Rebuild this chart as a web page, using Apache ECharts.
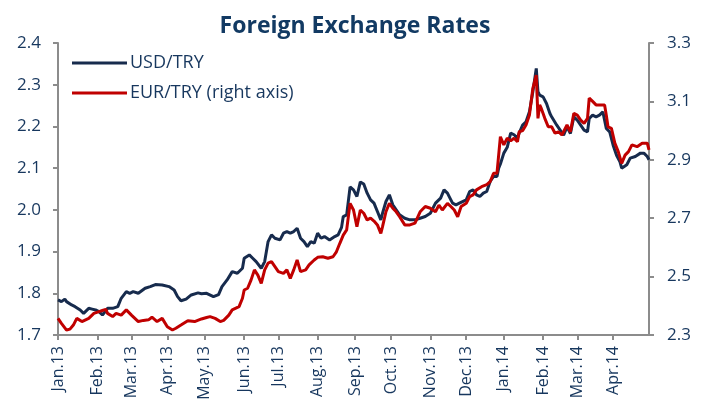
<!DOCTYPE html>
<html>
<head>
<meta charset="utf-8">
<script src="https://cdn.jsdelivr.net/npm/echarts@6/dist/echarts.min.js"></script>
<style>
html,body{margin:0;padding:0;background:#fff;}
#chart{width:710px;height:406px;}
</style>
</head>
<body>
<div id="chart"></div>
<script>
// Month tick labels
const monthLabels = ['Jan.13','Feb.13','Mar.13','Apr.13','May.13','Jun.13','Jul.13','Aug.13',
  'Sep.13','Oct.13','Nov.13','Dec.13','Jan.14','Feb.14','Mar.14','Apr.14'];
const firstDay = '2013-01-01';
const lastDay = '2014-04-30';

// USD/TRY: [business-day index, rate] (left axis)
const usdTry = [
  [0,1.784],[2,1.780],[4,1.786],[5,1.780],[8,1.772],[10,1.768],[13,1.760],[15,1.752],[18,1.764],
  [20,1.762],[22,1.760],[24,1.756],[26,1.748],[28,1.758],[29,1.764],[32,1.764],[35,1.768],
  [37,1.788],[40,1.804],[42,1.800],[44,1.804],[47,1.800],[49,1.806],[51,1.812],[54,1.816],
  [57,1.821],[61,1.820],[65,1.816],[68,1.808],[70,1.792],[72,1.782],[75,1.786],[78,1.796],
  [82,1.801],[84,1.799],[87,1.800],[91,1.792],[94,1.797],[96,1.816],[99,1.832],[102,1.852],
  [105,1.848],[108,1.860],[109,1.884],[112,1.892],[114,1.884],[116,1.876],[119,1.860],
  [121,1.876],[123,1.924],[125,1.940],[127,1.932],[130,1.928],[132,1.944],[134,1.948],
  [136,1.944],[138,1.948],[140,1.956],[142,1.932],[144,1.924],[146,1.912],[148,1.924],
  [150,1.920],[152,1.944],[154,1.932],[156,1.936],[159,1.928],[162,1.936],[164,1.940],
  [166,1.958],[167,1.984],[169,1.988],[171,2.055],[173,2.048],[175,2.032],[177,2.067],
  [179,2.062],[181,2.040],[183,2.024],[185,2.016],[187,1.996],[189,1.976],[190,1.992],
  [192,2.020],[194,2.036],[196,2.012],[198,2.000],[200,1.988],[203,1.980],[206,1.976],
  [209,1.976],[212,1.980],[215,1.984],[218,1.992],[221,2.016],[224,2.028],[226,2.048],
  [228,2.040],[230,2.024],[231,2.016],[233,2.012],[235,2.016],[239,2.024],[241,2.044],
  [243,2.048],[245,2.036],[247,2.032],[249,2.040],[251,2.044],[253,2.068],[255,2.080],
  [257,2.080],[258,2.100],[259,2.110],[261,2.136],[263,2.150],[265,2.184],[267,2.180],
  [269,2.172],[270,2.184],[272,2.203],[274,2.211],[276,2.235],[278,2.283],[280,2.339],
  [281,2.283],[282,2.275],[284,2.271],[286,2.255],[288,2.231],[289,2.223],[292,2.203],
  [294,2.191],[296,2.179],[298,2.199],[300,2.183],[302,2.223],[304,2.215],[306,2.203],
  [308,2.191],[310,2.187],[311,2.219],[313,2.227],[315,2.223],[317,2.227],[319,2.235],
  [321,2.195],[323,2.187],[325,2.155],[327,2.131],[329,2.115],[330,2.100],[333,2.108],
  [335,2.124],[338,2.128],[341,2.136],[343,2.136],[345,2.128],[346,2.120]
];

// EUR/TRY: [business-day index, rate] (right axis)
const eurTry = [
  [0,2.357],[2,2.340],[5,2.317],[7,2.320],[9,2.334],[11,2.357],[14,2.346],[18,2.357],
  [21,2.374],[24,2.380],[26,2.384],[28,2.388],[29,2.374],[32,2.363],[34,2.374],[37,2.368],
  [40,2.386],[43,2.368],[47,2.346],[50,2.350],[53,2.352],[55,2.361],[58,2.346],[61,2.357],
  [64,2.328],[67,2.317],[69,2.323],[72,2.334],[76,2.349],[80,2.346],[84,2.355],[87,2.360],
  [89,2.363],[92,2.357],[95,2.346],[97,2.350],[100,2.368],[102,2.386],[106,2.397],
  [108,2.426],[109,2.454],[111,2.460],[113,2.488],[115,2.523],[117,2.505],[119,2.477],
  [121,2.523],[123,2.546],[125,2.551],[127,2.534],[129,2.517],[132,2.511],[134,2.523],
  [136,2.494],[138,2.523],[140,2.557],[142,2.517],[145,2.523],[147,2.540],[150,2.557],
  [152,2.566],[155,2.568],[158,2.563],[161,2.568],[163,2.585],[165,2.614],[167,2.642],
  [169,2.660],[171,2.751],[173,2.728],[175,2.671],[177,2.728],[179,2.717],[181,2.694],
  [183,2.700],[185,2.690],[187,2.677],[189,2.648],[190,2.671],[192,2.722],[194,2.751],
  [196,2.734],[198,2.722],[200,2.705],[203,2.677],[206,2.677],[209,2.683],[212,2.722],
  [215,2.740],[218,2.734],[221,2.722],[223,2.745],[225,2.728],[228,2.751],[230,2.740],
  [232,2.728],[234,2.705],[236,2.740],[239,2.751],[241,2.774],[243,2.780],[245,2.797],
  [248,2.808],[251,2.815],[253,2.825],[255,2.854],[257,2.854],[258,2.860],[259,2.979],
  [261,2.951],[263,2.974],[265,2.965],[267,2.974],[269,2.962],[270,2.996],[272,3.000],
  [274,3.019],[276,3.053],[278,3.145],[280,3.190],[281,3.042],[282,3.088],[283,3.075],
  [285,3.042],[287,3.013],[289,3.013],[291,2.991],[293,2.996],[295,2.985],[298,3.019],
  [300,2.996],[302,3.059],[304,3.053],[306,3.036],[308,3.025],[310,3.042],[311,3.111],
  [313,3.100],[315,3.088],[317,3.088],[320,3.088],[321,3.053],[322,3.013],[324,3.008],
  [326,2.957],[328,2.928],[330,2.888],[332,2.916],[334,2.928],[336,2.951],[339,2.945],
  [342,2.957],[345,2.957],[346,2.934]
];

// Business-day categories
const days = [];
(function(){
  let d = new Date(firstDay + 'T00:00:00Z');
  const end = new Date(lastDay + 'T00:00:00Z');
  while (d <= end) {
    const wd = d.getUTCDay();
    if (wd !== 0 && wd !== 6) days.push(d.toISOString().slice(0,10));
    d = new Date(d.getTime() + 86400000);
  }
})();
const monthStart = {};
let mk = 0;
days.forEach((s, i) => {
  if (i === 0 || s.slice(0,7) !== days[i-1].slice(0,7)) { monthStart[i] = monthLabels[mk++]; }
});

const txt = '#17375E';
const axisGrey = '#8c8c8c';
const font = 'Open Sans';
const chart = echarts.init(document.getElementById('chart'));
chart.setOption({
  animation: false,
  backgroundColor: '#fff',
  title: {
    text: 'Foreign Exchange Rates', left: 'center', top: 10,
    textStyle: { color: '#123A63', fontSize: 23, fontWeight: 'bold', fontFamily: font }
  },
  legend: {
    orient: 'vertical', left: 72, top: 54, padding: 0, itemWidth: 55, itemHeight: 3, itemGap: 12,
    icon: 'rect',
    textStyle: { color: txt, fontSize: 18, fontFamily: font, padding: [0,0,0,-2] },
    data: ['USD/TRY', 'EUR/TRY (right axis)']
  },
  grid: { left: 58, right: 61, top: 43, bottom: 71 },
  xAxis: {
    type: 'category', data: days, boundaryGap: false,
    axisLine: { lineStyle: { color: axisGrey, width: 2 } },
    axisTick: { interval: (i) => monthStart[i] !== undefined, length: 5, lineStyle: { color: axisGrey, width: 2 } },
    axisLabel: {
      interval: (i) => monthStart[i] !== undefined,
      formatter: (v, i) => monthStart[i] || '',
      rotate: 90, margin: 11, color: txt, fontSize: 16, fontFamily: font
    },
    splitLine: { show: false }
  },
  yAxis: [
    {
      type: 'value', min: 1.7, max: 2.4, interval: 0.1, position: 'left',
      axisLine: { show: true, lineStyle: { color: axisGrey, width: 2 } },
      axisTick: { show: true, length: 5, lineStyle: { color: axisGrey, width: 2 } },
      axisLabel: { formatter: (v) => v.toFixed(1), margin: 17, color: txt, fontSize: 17, fontFamily: font },
      splitLine: { show: false }
    },
    {
      type: 'value', min: 2.3, max: 3.3, interval: 0.2, position: 'right',
      axisLine: { show: true, lineStyle: { color: axisGrey, width: 2 } },
      axisTick: { show: true, length: 5, lineStyle: { color: axisGrey, width: 2 } },
      axisLabel: { formatter: (v) => v.toFixed(1), margin: 18, color: txt, fontSize: 17, fontFamily: font },
      splitLine: { show: false }
    }
  ],
  series: [
    {
      name: 'USD/TRY', type: 'line', yAxisIndex: 0, data: usdTry, showSymbol: false, symbol: 'none',
      lineStyle: { color: '#172B4D', width: 3 }, itemStyle: { color: '#172B4D' }
    },
    {
      name: 'EUR/TRY (right axis)', type: 'line', yAxisIndex: 1, data: eurTry, showSymbol: false, symbol: 'none',
      lineStyle: { color: '#C00000', width: 3 }, itemStyle: { color: '#C00000' }
    }
  ]
});
</script>
</body>
</html>
